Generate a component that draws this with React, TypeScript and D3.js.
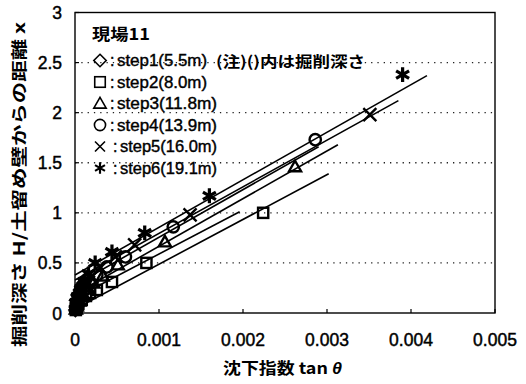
import React from "react";
import * as d3 from "d3";

// ---- data (x = tanθ, y = H/x) ----
const step1: [number, number][] = [
  [0.000005, 0.03], [0.00001, 0.06], [0.00002, 0.1], [0.00003, 0.14], [0.00004, 0.17], [0.00005, 0.2],
  [0.00006, 0.23], [0.00008, 0.26], [0.0001, 0.3], [0.00013, 0.34],
];
const step2: [number, number][] = [
  [0.00001, 0.03], [0.00002, 0.05], [0.00004, 0.09], [0.00008, 0.13], [0.00013, 0.17], [0.00018, 0.2],
  [0.00026, 0.23], [0.00044, 0.31], [0.00085, 0.5], [0.00224, 1.0],
];
const step3: [number, number][] = [
  [0.00001, 0.04], [0.00002, 0.07], [0.00005, 0.12], [0.0001, 0.18], [0.00016, 0.24], [0.00022, 0.3],
  [0.00033, 0.37], [0.00051, 0.48], [0.00107, 0.71], [0.00262, 1.46],
];
const step4: [number, number][] = [
  [0.00001, 0.05], [0.00002, 0.09], [0.00005, 0.15], [0.0001, 0.22], [0.00017, 0.3], [0.00026, 0.38],
  [0.00038, 0.46], [0.0006, 0.56], [0.00117, 0.86], [0.00286, 1.73],
];
const step5: [number, number][] = [
  [0.00001, 0.07], [0.00003, 0.12], [0.00007, 0.19], [0.00012, 0.27], [0.0002, 0.36], [0.0003, 0.45],
  [0.00048, 0.56], [0.00071, 0.68], [0.00137, 0.98], [0.00351, 1.98],
];
const step6: [number, number][] = [
  [0.00001, 0.1], [0.00003, 0.16], [0.00007, 0.24], [0.00011, 0.31], [0.00016, 0.39], [0.00024, 0.5],
  [0.00044, 0.61], [0.00083, 0.8], [0.0016, 1.17], [0.0039, 2.38],
];

// fitted lines: start at x=0 with intercept, end at (endX, endY)
const fitIntercept = [0.15, 0.04, 0.19, 0.28, 0.33, 0.38];
const fitEndX = [0.00196, 0.00302, 0.00313, 0.0029, 0.00385, 0.00419];
const fitEndY = [1.01, 1.39, 1.68, 1.66, 2.12, 2.37];

const xTicks = [0, 0.001, 0.002, 0.003, 0.004, 0.005];
const xTickLabels = ["0", "0.001", "0.002", "0.003", "0.004", "0.005"];
const yTicks = [0, 0.5, 1, 1.5, 2, 2.5, 3];
const yTickLabels = ["0", "0.5", "1", "1.5", "2", "2.5", "3"];
const gridValues = [0.5, 1, 1.5, 2, 2.5];

const legendLabels = ["step1(5.5m)", "step2(8.0m)", "step3(11.8m)", "step4(13.9m)", "step5(16.0m)", "step6(19.1m)"];
const legendTitle = "現場11";
const legendNote = "(注)()内は掘削深さ";
const xTitle = "沈下指数 tan ";
const yTitle = "掘削深さ H/土留め壁からの距離 x";

const W = 526, H = 384;
const x = d3.scaleLinear().domain([0, 0.005]).range([75, 495]);
const y = d3.scaleLinear().domain([0, 3]).range([313, 12.5]);

const CJK = "'Noto Sans CJK JP', 'Noto Sans', sans-serif";
const LAT = "'Liberation Sans', Arial, sans-serif";

function Marker({ kind, cx, cy, s, sw }: { kind: number; cx: number; cy: number; s: number; sw: number }) {
  const common = { fill: "none", stroke: "#000", strokeWidth: sw };
  if (kind === 0)
    return <path d={`M${cx},${cy - s}L${cx + s},${cy}L${cx},${cy + s}L${cx - s},${cy}Z`} {...common} />;
  if (kind === 1)
    return <rect x={cx - s * 0.85} y={cy - s * 0.85} width={s * 1.7} height={s * 1.7} {...common} />;
  if (kind === 2)
    return <path d={`M${cx},${cy - s}L${cx + s},${cy + s * 0.75}L${cx - s},${cy + s * 0.75}Z`} {...common} />;
  if (kind === 3) return <circle cx={cx} cy={cy} r={s * 0.9} {...common} />;
  if (kind === 4)
    return <path d={`M${cx - s},${cy - s}L${cx + s},${cy + s}M${cx - s},${cy + s}L${cx + s},${cy - s}`} {...common} />;
  const a = s * 1.15;
  const d = [90, 30, -30]
    .map((deg) => {
      const r = (deg * Math.PI) / 180;
      const dx = Math.cos(r) * a, dy = Math.sin(r) * a;
      return `M${cx - dx},${cy - dy}L${cx + dx},${cy + dy}`;
    })
    .join("");
  return <path d={d} {...common} strokeWidth={sw * 1.35} />;
}

export default function App() {
  const series = [step1, step2, step3, step4, step5, step6];
  const legendY = [60.5, 82, 103.5, 125, 146.5, 168];
  const legendEnd = [207, 207, 217, 217, 217, 217];
  const colonX = [110, 110, 110, 110, 113, 113];
  const textX = [117, 117, 117, 117, 120, 120];
  const markerSize = [6, 6, 6, 6.3, 6.5, 6.5];
  return (
    <svg width={W} height={H} style={{ position: "absolute", left: 0, top: 0, background: "#fff" }}>
      <rect x={0} y={0} width={W} height={H} fill="#fff" />
      {/* gridlines */}
      {gridValues.map((g) => (
        <line key={g} x1={x(0)} x2={x(0.005)} y1={y(g)} y2={y(g)} stroke="#222" strokeWidth={1.3} strokeDasharray="1.3,5" />
      ))}
      {/* frame */}
      <rect x={x(0)} y={y(3)} width={x(0.005) - x(0)} height={y(0) - y(3)} fill="none" stroke="#000" strokeWidth={1.4} />
      {xTicks.map((t) => (
        <line key={t} x1={x(t)} x2={x(t)} y1={y(0)} y2={y(0) - 4} stroke="#000" strokeWidth={1.2} />
      ))}
      {yTicks.map((t) => (
        <line key={t} x1={x(0)} x2={x(0) + 4} y1={y(t)} y2={y(t)} stroke="#000" strokeWidth={1.2} />
      ))}
      {/* tick labels */}
      {xTicks.map((t, i) => (
        <text key={t} x={x(t)} y={346} textAnchor="middle" fontFamily={LAT} fontSize={17.5} fill="#000" stroke="#000" strokeWidth={0.45}>
          {xTickLabels[i]}
        </text>
      ))}
      {yTicks.map((t, i) => (
        <text key={t} x={62} y={y(t) + 6.5} textAnchor="end" fontFamily={LAT} fontSize={17.5} fill="#000" stroke="#000" strokeWidth={0.45}>
          {yTickLabels[i]}
        </text>
      ))}
      {/* fit lines */}
      {fitIntercept.map((b, i) => (
        <line key={i} x1={x(0)} y1={y(b)} x2={x(fitEndX[i])} y2={y(fitEndY[i])} stroke="#000" strokeWidth={1.6} />
      ))}
      {/* markers */}
      {series.map((s, k) =>
        s.map((p, j) => <Marker key={`${k}-${j}`} kind={k} cx={x(p[0])} cy={y(p[1])} s={markerSize[k]} sw={2.4} />)
      )}
      {/* legend */}
      <text x={92} y={40} fontFamily={CJK} fontSize={16} fontWeight={700} textLength={58} lengthAdjust="spacingAndGlyphs">
        {legendTitle}
      </text>
      {legendLabels.map((l, i) => (
        <g key={l}>
          <Marker kind={i} cx={100} cy={legendY[i]} s={i >= 4 ? 5 : 6.2} sw={1.6} />
          <text x={colonX[i]} y={legendY[i] + 5.5} fontFamily={LAT} fontSize={16} fill="#000" stroke="#000" strokeWidth={0.4}>:</text>
          <text x={textX[i]} y={legendY[i] + 5.5} fontFamily={LAT} fontSize={16} fill="#000" stroke="#000" strokeWidth={0.4}
            textLength={legendEnd[i] - textX[i]} lengthAdjust="spacingAndGlyphs">
            {l}
          </text>
        </g>
      ))}
      <text x={216} y={66.5} fontFamily={CJK} fontSize={15} fontWeight={700} textLength={149} lengthAdjust="spacingAndGlyphs">
        {legendNote}
      </text>
      {/* axis titles */}
      <text x={223} y={374} fontFamily={CJK} fontSize={16} fontWeight={700} textLength={119} lengthAdjust="spacingAndGlyphs">
        {xTitle}
        <tspan fontStyle="italic" fontFamily={LAT}>θ</tspan>
      </text>
      <text transform={`translate(25,${(22 + 347) / 2}) rotate(-90)`} textAnchor="middle" fontFamily={CJK} fontSize={16} fontWeight={700}
        textLength={325} lengthAdjust="spacingAndGlyphs">
        {yTitle}
      </text>
    </svg>
  );
}
